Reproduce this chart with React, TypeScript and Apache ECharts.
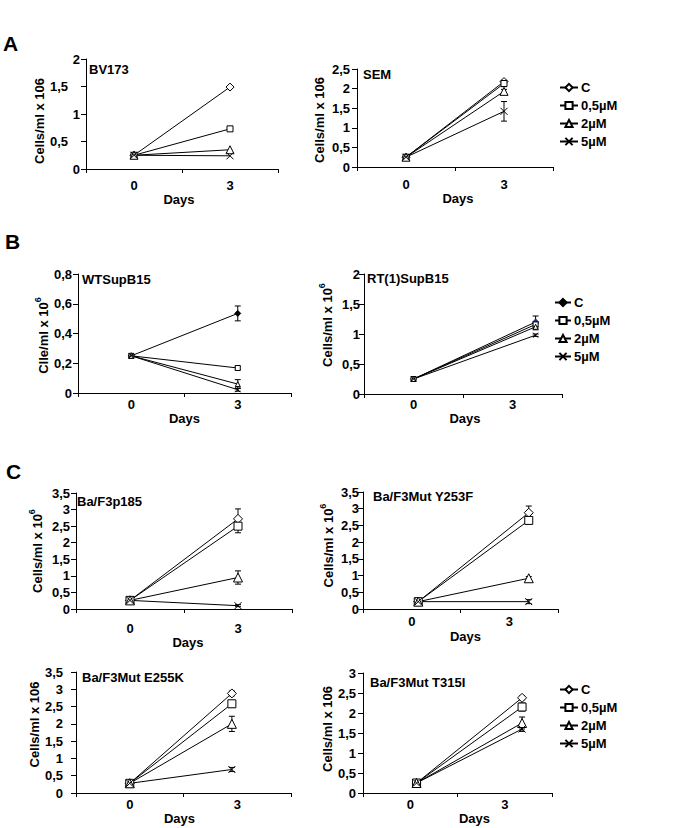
import React, { useEffect, useRef } from 'react';
import * as echarts from 'echarts';

// ---------- data ----------
const dayLabels = ['0', '3'];
const concentrations = ['C', '0,5µM', '2µM', '5µM'];

// A: BV173
const bv173DayPos = [0, 3];
const bv173Day0 = [0.25, 0.25, 0.25, 0.25];
const bv173Day3 = [1.49, 0.73, 0.35, 0.24];
const bv173Err3 = [0, 0, 0, 0];
// A: SEM
const semDayPos = [0, 3];
const semDay0 = [0.25, 0.25, 0.25, 0.25];
const semDay3 = [2.18, 2.13, 1.93, 1.42];
const semErr3 = [0.03, 0.08, 0.05, 0.25];
// B: WTSupB15
const wtDayPos = [0, 3];
const wtDay0 = [0.25, 0.25, 0.25, 0.25];
const wtDay3 = [0.535, 0.168, 0.06, 0.022];
const wtErr3 = [0.05, 0.012, 0.03, 0.01];
// B: RT(1)SupB15
const rtDayPos = [0, 3.7];
const rtDay0 = [0.25, 0.25, 0.25, 0.25];
const rtDay3 = [1.2, 1.16, 1.12, 0.98];
const rtErr3 = [0.1, 0.04, 0.05, 0.02];
// C: Ba/F3p185
const p185DayPos = [0, 3];
const p185Day0 = [0.26, 0.26, 0.26, 0.26];
const p185Day3 = [2.72, 2.5, 0.95, 0.1];
const p185Err3 = [0.3, 0.2, 0.2, 0.03];
// C: Ba/F3Mut Y253F
const y253fDayPos = [0.2, 3.6];
const y253fDay0 = [0.22, 0.22, 0.22, 0.22];
const y253fDay3 = [2.88, 2.65, 0.92, 0.22];
const y253fErr3 = [0.2, 0.08, 0.05, 0.06];
// C: Ba/F3Mut E255K
const e255kDayPos = [0, 2.85];
const e255kDay0 = [0.28, 0.28, 0.28, 0.28];
const e255kDay3 = [2.88, 2.58, 2.0, 0.68];
const e255kErr3 = [0.07, 0.1, 0.22, 0.06];
// C: Ba/F3Mut T315I
const t315iDayPos = [0.2, 3.55];
const t315iDay0 = [0.25, 0.25, 0.25, 0.25];
const t315iDay3 = [2.38, 2.15, 1.75, 1.6];
const t315iErr3 = [0.05, 0.1, 0.15, 0.06];

// ---------- layout / style ----------
const FONT = '"Liberation Sans", Arial, Helvetica, sans-serif';
const CROSS = 'path://M0,0L10,10M10,0L0,10';

const markerSets: Record<string, { symbol: string; size: number; fill: string }[]> = {
  A: [
    { symbol: 'diamond', size: 8, fill: '#fff' },
    { symbol: 'rect', size: 6, fill: '#fff' },
    { symbol: 'triangle', size: 8, fill: '#fff' },
    { symbol: CROSS, size: 7, fill: '#fff' },
  ],
  B: [
    { symbol: 'diamond', size: 6, fill: '#000' },
    { symbol: 'rect', size: 5, fill: '#fff' },
    { symbol: 'triangle', size: 5, fill: '#fff' },
    { symbol: CROSS, size: 5, fill: '#fff' },
  ],
  C: [
    { symbol: 'diamond', size: 9, fill: '#fff' },
    { symbol: 'rect', size: 8, fill: '#fff' },
    { symbol: 'triangle', size: 9, fill: '#fff' },
    { symbol: CROSS, size: 7, fill: '#fff' },
  ],
};

type Panel = {
  group: string;
  title: string;
  titlePos: [number, number];
  pos: number[];
  d0: number[];
  d3: number[];
  err: number[];
  yMax: number;
  yInt: number;
  grid: { left: number; top: number; width: number; height: number };
  yName: string;
  sup: boolean;
  nameGap: number;
  nameShift: number;
  yLabelMargin: number;
  decimalPad?: number;
  xLabelMargin: number;
  daysGap: number;
  daysShift: number;
  c0Color?: string;
};

const panels: Panel[] = [
  {
    group: 'A', title: 'BV173', titlePos: [89, 63], pos: bv173DayPos, d0: bv173Day0, d3: bv173Day3, err: bv173Err3,
    yMax: 2, yInt: 0.5, grid: { left: 86, top: 59, width: 192, height: 110 },
    yName: 'Cells/ml x 106', sup: false, nameGap: 28, nameShift: 7, yLabelMargin: 6, decimalPad: 12,
    xLabelMargin: 10, daysGap: 19, daysShift: -3,
  },
  {
    group: 'A', title: 'SEM', titlePos: [363, 68], pos: semDayPos, d0: semDay0, d3: semDay3, err: semErr3,
    yMax: 2.5, yInt: 0.5, grid: { left: 357, top: 69, width: 196, height: 98 },
    yName: 'Cells/ml x 106', sup: false, nameGap: 31, nameShift: 2, yLabelMargin: 7,
    xLabelMargin: 11, daysGap: 21, daysShift: 3,
  },
  {
    group: 'B', title: 'WTSupB15', titlePos: [82, 273], pos: wtDayPos, d0: wtDay0, d3: wtDay3, err: wtErr3,
    yMax: 0.8, yInt: 0.2, grid: { left: 78, top: 274, width: 213, height: 119 },
    yName: 'Clle/ml x 10', sup: true, nameGap: 26, nameShift: 2, yLabelMargin: 6,
    xLabelMargin: 5, daysGap: 19, daysShift: 0,
  },
  {
    group: 'B', title: 'RT(1)SupB15', titlePos: [367, 272], pos: rtDayPos, d0: rtDay0, d3: rtDay3, err: rtErr3,
    yMax: 2, yInt: 0.5, grid: { left: 364, top: 274, width: 198, height: 120 },
    yName: 'Cells/ml x 10', sup: true, nameGap: 30, nameShift: -9, yLabelMargin: 4,
    xLabelMargin: 4, daysGap: 18, daysShift: 2, c0Color: '#1f2a80',
  },
  {
    group: 'C', title: 'Ba/F3p185', titlePos: [77, 495], pos: p185DayPos, d0: p185Day0, d3: p185Day3, err: p185Err3,
    yMax: 3.5, yInt: 0.5, grid: { left: 76, top: 493, width: 216, height: 116 },
    yName: 'Cells/ml x 10', sup: true, nameGap: 32, nameShift: 0, yLabelMargin: 6,
    xLabelMargin: 13, daysGap: 23, daysShift: 4,
  },
  {
    group: 'C', title: 'Ba/F3Mut Y253F', titlePos: [373, 490], pos: y253fDayPos, d0: y253fDay0, d3: y253fDay3, err: y253fErr3,
    yMax: 3.5, yInt: 0.5, grid: { left: 363, top: 492, width: 195, height: 117 },
    yName: 'Cells/ml x 10', sup: true, nameGap: 28, nameShift: -5, yLabelMargin: 4,
    xLabelMargin: 6, daysGap: 21, daysShift: 5,
  },
  {
    group: 'C', title: 'Ba/F3Mut E255K', titlePos: [82, 671], pos: e255kDayPos, d0: e255kDay0, d3: e255kDay3, err: e255kErr3,
    yMax: 3.5, yInt: 0.5, grid: { left: 76, top: 672, width: 215, height: 121 },
    yName: 'Cells/ml x 106', sup: false, nameGap: 31, nameShift: -8, yLabelMargin: 13,
    xLabelMargin: 5, daysGap: 19, daysShift: -4,
  },
  {
    group: 'C', title: 'Ba/F3Mut T315I', titlePos: [370, 676], pos: t315iDayPos, d0: t315iDay0, d3: t315iDay3, err: t315iErr3,
    yMax: 3, yInt: 0.5, grid: { left: 363, top: 673, width: 189, height: 120 },
    yName: 'Cells/ml x 106', sup: false, nameGap: 27, nameShift: -4, yLabelMargin: 7,
    xLabelMargin: 5, daysGap: 19, daysShift: 17,
  },
];

const legendPos: Record<string, { left: number; top: number; itemWidth: number }> = {
  A: { left: 559, top: 81, itemWidth: 18 },
  B: { left: 554, top: 296, itemWidth: 16 },
  C: { left: 559, top: 683, itemWidth: 18 },
};

const panelLetters = [
  { text: 'A', left: 3, top: 33 },
  { text: 'B', left: 5, top: 231 },
  { text: 'C', left: 6, top: 461 },
];

const txt = { color: '#000', fontWeight: 'bold' as const, fontFamily: FONT, fontSize: 13 };

function fmt(v: number) {
  return String(Math.round(v * 10) / 10).replace('.', ',');
}

function shiftPad(d: number) {
  return d >= 0 ? [0, 0, 0, 2 * d] : [0, -2 * d, 0, 0];
}

function buildOption() {
  const grids: any[] = [];
  const xAxes: any[] = [];
  const yAxes: any[] = [];
  const series: any[] = [];
  const titles: any[] = [];

  panelLetters.forEach((p) => {
    titles.push({ text: p.text, left: p.left, top: p.top, padding: 0, textStyle: { ...txt, fontSize: 21 } });
  });

  panels.forEach((p, i) => {
    grids.push({ ...p.grid, containLabel: false, outerBoundsMode: 'none' });
    titles.push({ text: p.title, left: p.titlePos[0], top: p.titlePos[1], padding: 0, textStyle: { ...txt } });

    xAxes.push({
      type: 'category',
      gridIndex: i,
      position: 'bottom',
      data: dayLabels,
      boundaryGap: true,
      axisLine: { show: true, onZero: false, lineStyle: { color: '#000', width: 1 } },
      axisTick: { show: true, length: 4, lineStyle: { color: '#000' } },
      axisLabel: { ...txt, margin: p.xLabelMargin },
      splitLine: { show: false },
      name: 'Days',
      nameLocation: 'middle',
      nameGap: p.daysGap,
      nameTextStyle: { ...txt, padding: shiftPad(p.daysShift), verticalAlign: 'top' },
    });
    xAxes.push({
      type: 'value',
      gridIndex: i,
      position: 'top',
      min: -1.5,
      max: 4.5,
      show: false,
      axisLine: { show: false, onZero: false },
      splitLine: { show: false },
    });

    const namePad = shiftPad(-p.nameShift);
    const yName = p.sup ? `{b|${p.yName}}{s|6}` : p.yName;
    yAxes.push({
      type: 'value',
      gridIndex: i,
      position: 'left',
      min: 0,
      max: p.yMax,
      interval: p.yInt,
      axisLine: { show: true, onZero: false, lineStyle: { color: '#000', width: 1 } },
      axisTick: { show: true, length: 5, lineStyle: { color: '#000' } },
      splitLine: { show: false },
      axisLabel: {
        ...txt,
        margin: p.yLabelMargin,
        formatter: (v: number) => {
          const s = fmt(v);
          if (p.decimalPad && s.indexOf(',') >= 0) return `{d|${s}}`;
          return s;
        },
        rich: p.decimalPad ? { d: { ...txt, padding: [0, p.decimalPad, 0, 0] } } : undefined,
      },
      name: yName,
      nameLocation: 'middle',
      nameGap: p.nameGap,
      nameTextStyle: {
        ...txt,
        padding: namePad,
        rich: {
          b: { ...txt, verticalAlign: 'bottom', lineHeight: 17 },
          s: { ...txt, fontSize: 9, verticalAlign: 'top', lineHeight: 17 },
        },
      },
    });

    const marks = markerSets[p.group];
    concentrations.forEach((c, k) => {
      const m = marks[k];
      const fill = k === 0 && p.c0Color ? p.c0Color : m.fill;
      series.push({
        type: 'line',
        name: `${p.group}|${c}`,
        xAxisIndex: 2 * i + 1,
        yAxisIndex: i,
        data: [
          [p.pos[0], p.d0[k]],
          [p.pos[1], p.d3[k]],
        ],
        symbol: m.symbol,
        symbolSize: m.size,
        showSymbol: true,
        lineStyle: { color: '#000', width: 1 },
        itemStyle: { color: fill, borderColor: k === 0 && p.c0Color ? p.c0Color : '#000', borderWidth: 1 },
        emphasis: { disabled: true },
        z: 3,
      });
    });

    const errData: number[][] = [];
    p.err.forEach((e, k) => {
      if (e > 0) errData.push([p.pos[1], p.d3[k] - e, p.d3[k] + e]);
    });
    series.push({
      type: 'custom',
      name: `err${i}`,
      xAxisIndex: 2 * i + 1,
      yAxisIndex: i,
      data: errData,
      encode: { x: 0, y: [1, 2] },
      silent: true,
      z: 2,
      renderItem: (_params: any, api: any) => {
        const x = api.value(0);
        const a = api.coord([x, api.value(1)]);
        const b = api.coord([x, api.value(2)]);
        const w = 3;
        const st = { stroke: '#000', lineWidth: 1 };
        return {
          type: 'group',
          children: [
            { type: 'line', shape: { x1: a[0], y1: a[1], x2: b[0], y2: b[1] }, style: st },
            { type: 'line', shape: { x1: a[0] - w, y1: a[1], x2: a[0] + w, y2: a[1] }, style: st },
            { type: 'line', shape: { x1: b[0] - w, y1: b[1], x2: b[0] + w, y2: b[1] }, style: st },
          ],
        };
      },
    });
  });

  const legends = Object.keys(legendPos).map((g) => ({
    orient: 'vertical',
    left: legendPos[g].left,
    top: legendPos[g].top,
    itemWidth: legendPos[g].itemWidth,
    itemHeight: 9,
    itemGap: 5,
    padding: 0,
    selectedMode: false,
    data: concentrations.map((c) => `${g}|${c}`),
    formatter: (name: string) => name.split('|')[1],
    textStyle: { ...txt, padding: [0, 0, 0, -2] },
  }));

  return {
    animation: false,
    backgroundColor: '#fff',
    title: titles,
    grid: grids,
    xAxis: xAxes,
    yAxis: yAxes,
    legend: legends,
    series,
  };
}

export default function App() {
  const ref = useRef<HTMLDivElement>(null);
  useEffect(() => {
    if (!ref.current) return;
    const chart = echarts.init(ref.current, undefined, { renderer: 'svg' });
    chart.setOption(buildOption() as any);
    return () => chart.dispose();
  }, []);
  return (
    <div
      ref={ref}
      style={{ position: 'absolute', left: 0, top: 0, width: 685, height: 828, background: '#fff' }}
    />
  );
}
